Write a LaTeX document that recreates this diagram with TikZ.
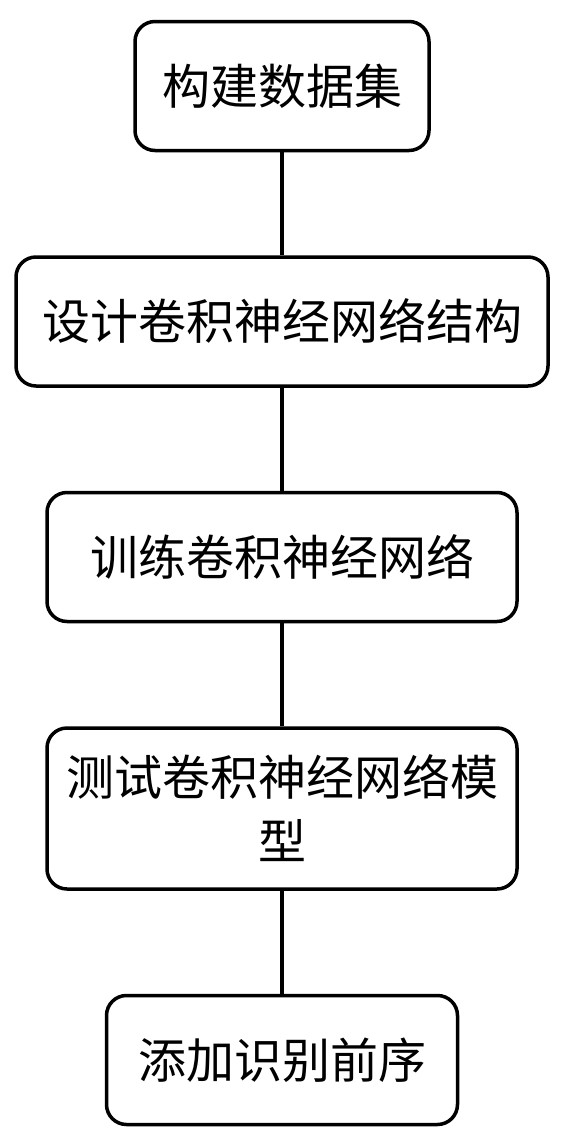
\documentclass[tikz,border=0pt]{standalone}
\usepackage{fontspec}
\newfontfamily\cjk{Noto Sans CJK SC}
\usetikzlibrary{positioning}

\begin{document}
\begin{tikzpicture}[x=1pt, y=-1pt, node distance=103pt,
	stage/.style={draw, line width=3.5pt, rounded corners=20pt, minimum height=129pt, align=center, font=\cjk\fontsize{48}{64}\selectfont}]
	\useasboundingbox (0,0) rectangle (564,1135);
	\node[stage, minimum width=294pt] (data) at (282,86) {构建数据集};
	\node[stage, minimum width=532pt] (design) [below=of data] {设计卷积神经网络结构};
	\node[stage, minimum width=470pt] (train) [below=of design] {训练卷积神经网络};
	\node[stage, minimum width=470pt, minimum height=161pt] (test) [below=of train] {测试卷积神经网络模\\型};
	\node[stage, minimum width=351pt] (prefix) [below=of test] {添加识别前序};
	\draw[line width=3.5pt] (data) -- (design) (design) -- (train) (train) -- (test) (test) -- (prefix);
\end{tikzpicture}
\end{document}
